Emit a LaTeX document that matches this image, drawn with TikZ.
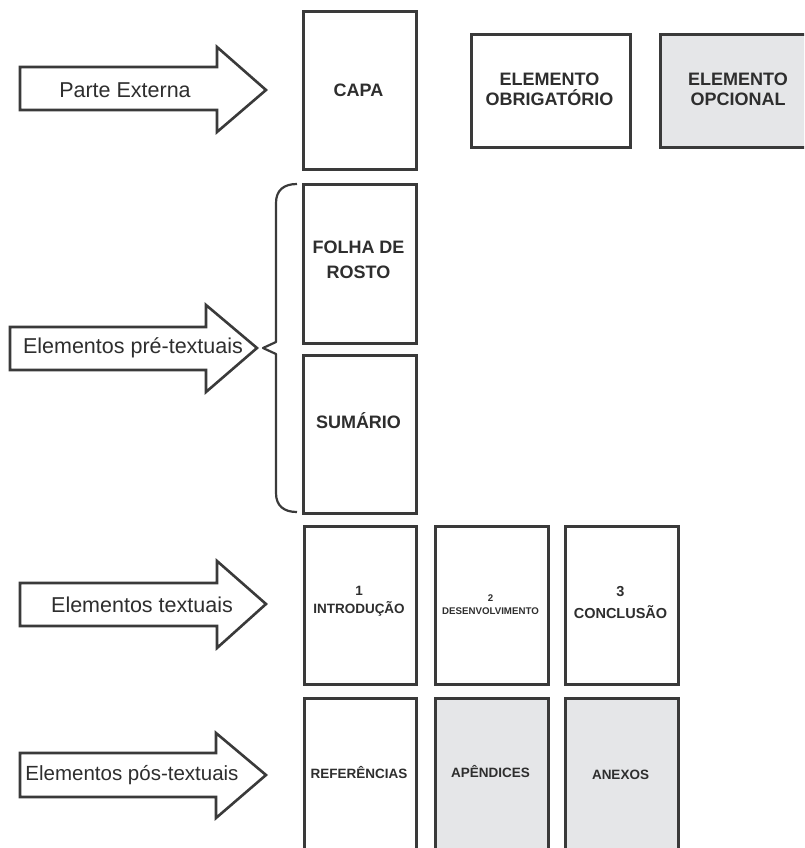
\documentclass[tikz,border=0pt]{standalone}
\usepackage{fontspec}
\setmainfont{Liberation Sans}
\definecolor{strokec}{HTML}{3A3A3A}
\definecolor{textc}{HTML}{2E2E2E}
\definecolor{optfill}{HTML}{E5E6E8}
\begin{document}
\begin{tikzpicture}[x=1pt,y=-1pt,
  line/.style={draw=strokec, line width=2.6pt, line join=miter},
  pagebox/.style={line, fill=white, rectangle, inner sep=0pt, anchor=north west},
  optbox/.style={pagebox, fill=optfill},
  biglabel/.style={text=textc, font=\bfseries\fontsize{18}{20}\selectfont, align=center, inner sep=0pt},
  smalllabel/.style={text=textc, font=\bfseries\fontsize{13.5}{18}\selectfont, align=center, inner sep=0pt},
  arrowtext/.style={text=textc, font=\fontsize{21.5}{24}\selectfont, inner sep=0pt},
  fatarrow/.style={line, fill=white}]
\path[use as bounding box] (0,0) rectangle (804,848);
\clip (0,0) rectangle (804,848);

% --- boxes ---
\node[pagebox, minimum width=113pt, minimum height=158pt] (capa) at (302,10) {};
\node[pagebox, minimum width=159pt, minimum height=113pt] (obrig) at (470,33) {};
\node[optbox, minimum width=158pt, minimum height=113pt] (opc) at (659,33) {};
\node[pagebox, minimum width=113pt, minimum height=159pt] (folha) at (302,183) {};
\node[pagebox, minimum width=113pt, minimum height=158pt] (sumario) at (302,354) {};
\node[pagebox, minimum width=112pt, minimum height=158pt] (intro) at (303,525) {};
\node[pagebox, minimum width=113pt, minimum height=158pt] (desenv) at (434,525) {};
\node[pagebox, minimum width=113pt, minimum height=158pt] (concl) at (564,525) {};
\node[pagebox, minimum width=112pt, minimum height=180pt] (ref) at (303,697) {};
\node[optbox, minimum width=113pt, minimum height=180pt] (apend) at (434,697) {};
\node[optbox, minimum width=113pt, minimum height=180pt] (anexos) at (564,697) {};

% --- box labels ---
\node[biglabel] (tcapa) at (358.5,90) {CAPA};
\node[biglabel] (tobrig) at (549.5,89) {ELEMENTO\\OBRIGATÓRIO};
\node[biglabel] (topc) at (738,89) {ELEMENTO\\OPCIONAL};
\node[biglabel, font=\bfseries\fontsize{18}{25}\selectfont] (tfolha) at (358.5,260) {FOLHA DE\\ROSTO};
\node[biglabel] (tsumario) at (358.5,421) {SUMÁRIO};
\node[smalllabel] (tintro) at (359,601) {1\\INTRODUÇÃO};
\node[text=textc, font=\bfseries\fontsize{9.7}{13}\selectfont, align=center, inner sep=0pt] (tdesenv) at (490.5,605) {2\\DESENVOLVIMENTO};
\node[smalllabel, font=\bfseries\fontsize{14.5}{21.5}\selectfont] (tconcl) at (620.5,602.5) {3\\CONCLUSÃO};
\node[smalllabel] (tref) at (359,773) {REFERÊNCIAS};
\node[smalllabel] (tapend) at (490.5,772) {APÊNDICES};
\node[smalllabel] (tanexos) at (620.5,775) {ANEXOS};

% --- block arrows ---
\draw[fatarrow] (20,67) -- (217,67) -- (217,47) -- (266,90) -- (217,132) -- (217,110) -- (20,110) -- cycle;
\draw[fatarrow] (10,327) -- (206,327) -- (206,305) -- (257,348) -- (206,392) -- (206,370) -- (10,370) -- cycle;
\draw[fatarrow] (20,583) -- (217,583) -- (217,561) -- (266,604) -- (217,648) -- (217,626) -- (20,626) -- cycle;
\draw[fatarrow] (20,753) -- (216,753) -- (216,733) -- (266,775) -- (216,818) -- (216,797) -- (20,797) -- cycle;

\node[arrowtext] (a1) at (125,90) {Parte Externa};
\node[arrowtext] (a2) at (133,348) {Elementos pré-textuais};
\node[arrowtext] (a3) at (142,605) {Elementos textuais};
\node[arrowtext, font=\fontsize{20.5}{24}\selectfont] (a4) at (132,775) {Elementos pós-textuais};

% --- brace ---
\draw[line, line width=2.2pt, line join=round]
  (297,184) .. controls (284,184) and (276,190) .. (276,203)
  -- (276,342) -- (263,348) -- (276,354)
  -- (276,493) .. controls (276,506) and (284,512) .. (297,512);
\end{tikzpicture}
\end{document}
